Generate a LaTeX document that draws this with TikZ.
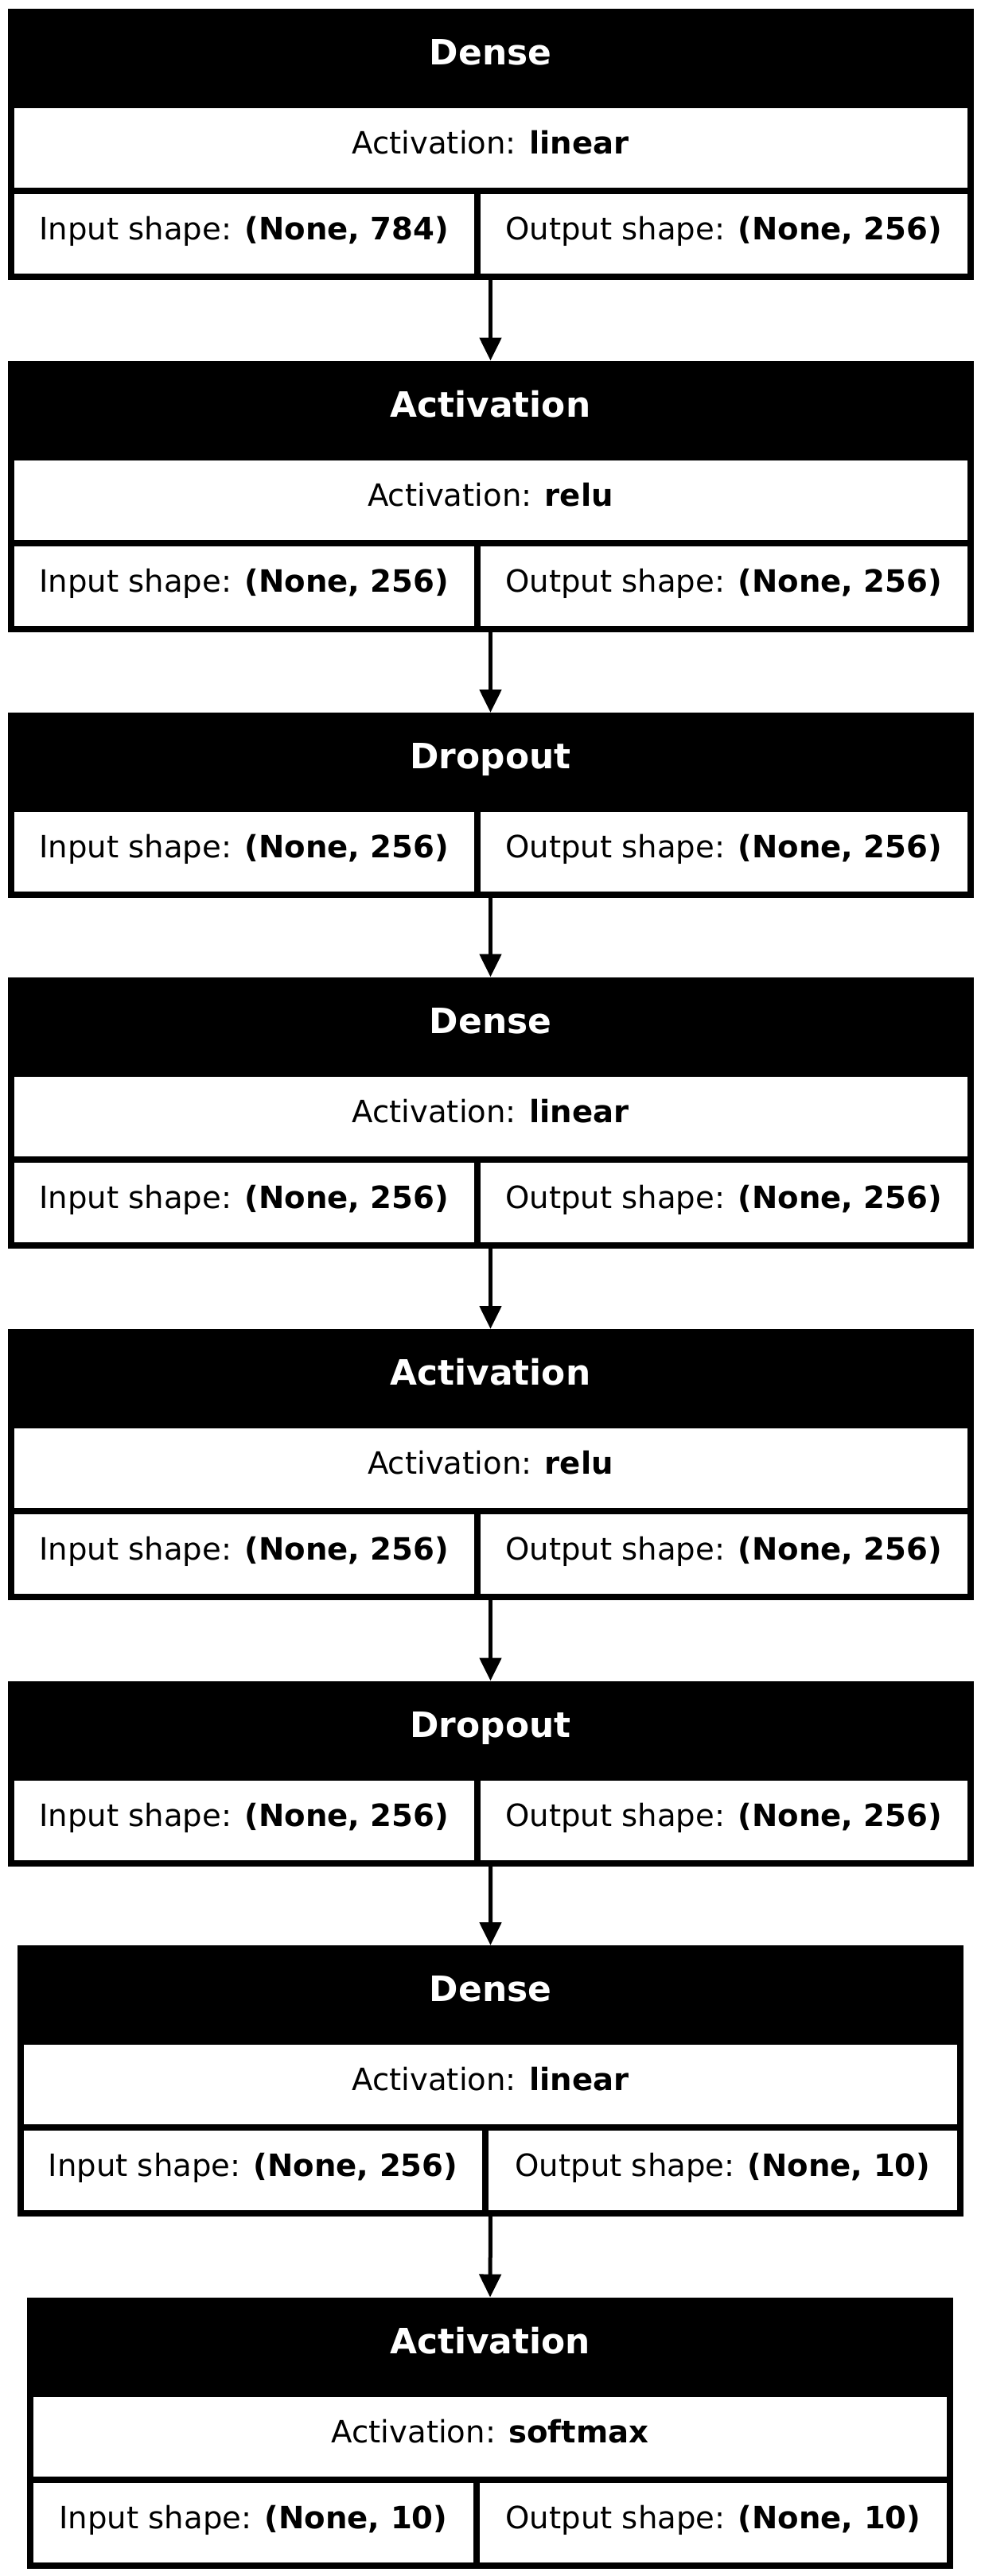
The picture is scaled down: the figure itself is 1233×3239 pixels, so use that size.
\documentclass[tikz,border=0pt]{standalone}
\usepackage{fontspec}
\setmainfont{DejaVu Sans}
\usetikzlibrary{arrows.meta}
\begin{document}
\begin{tikzpicture}[x=0.36pt, y=-0.36pt,
  cell/.style={draw=black, line width=2.88pt, inner sep=0pt, outer sep=0pt, anchor=north west,
    minimum height=38.88pt, text height=10.8pt, text depth=5.4pt,
    font=\fontsize{13.9pt}{16pt}\selectfont},
  hdr/.style={cell, fill=black, text=white, minimum height=42.12pt, text height=11.3pt,
    font=\fontsize{15.8pt}{18pt}\selectfont\bfseries},
  wideA/.style={minimum width=434.16pt},
  inA/.style={minimum width=211.14pt},
  outA/.style={minimum width=223.02pt},
  flow/.style={line width=1.8pt, -{Triangle[width=9.72pt,length=10.44pt]},
    shorten <=1.44pt, shorten >=1.44pt}
]
\fill[white] (0,0) rectangle (1233,3239);
\useasboundingbox (0,0) rectangle (1233,3239);

% Layer 1
\node[hdr, wideA] (h1) at (13.5,15) {Dense};
\node[cell, wideA] (a1) at (13.5,132) {Activation: \textbf{linear}};
\node[cell, inA] (i1) at (13.5,240) {Input shape: \textbf{(None, 784)}};
\node[cell, outA] (o1) at (600,240) {Output shape: \textbf{(None, 256)}};

% Layer 2
\node[hdr, wideA] (h2) at (13.5,457.5) {Activation};
\node[cell, wideA] (a2) at (13.5,574.5) {Activation: \textbf{relu}};
\node[cell, inA] (i2) at (13.5,682.5) {Input shape: \textbf{(None, 256)}};
\node[cell, outA] (o2) at (600,682.5) {Output shape: \textbf{(None, 256)}};

% Layer 3
\node[hdr, wideA] (h3) at (13.5,900) {Dropout};
\node[cell, inA] (i3) at (13.5,1017) {Input shape: \textbf{(None, 256)}};
\node[cell, outA] (o3) at (600,1017) {Output shape: \textbf{(None, 256)}};

% Layer 4
\node[hdr, wideA] (h4) at (13.5,1232.5) {Dense};
\node[cell, wideA] (a4) at (13.5,1349.5) {Activation: \textbf{linear}};
\node[cell, inA] (i4) at (13.5,1457.5) {Input shape: \textbf{(None, 256)}};
\node[cell, outA] (o4) at (600,1457.5) {Output shape: \textbf{(None, 256)}};

% Layer 5
\node[hdr, wideA] (h5) at (13.5,1675) {Activation};
\node[cell, wideA] (a5) at (13.5,1792) {Activation: \textbf{relu}};
\node[cell, inA] (i5) at (13.5,1900) {Input shape: \textbf{(None, 256)}};
\node[cell, outA] (o5) at (600,1900) {Output shape: \textbf{(None, 256)}};

% Layer 6
\node[hdr, wideA] (h6) at (13.5,2117.5) {Dropout};
\node[cell, inA] (i6) at (13.5,2234.5) {Input shape: \textbf{(None, 256)}};
\node[cell, outA] (o6) at (600,2234.5) {Output shape: \textbf{(None, 256)}};

% Layer 7
\node[hdr, minimum width=425.16pt] (h7) at (26,2450) {Dense};
\node[cell, minimum width=425.16pt] (a7) at (26,2567) {Activation: \textbf{linear}};
\node[cell, minimum width=210.24pt] (i7) at (26,2675) {Input shape: \textbf{(None, 256)}};
\node[cell, minimum width=214.92pt] (o7) at (610,2675) {Output shape: \textbf{(None, 10)}};

% Layer 8
\node[hdr, minimum width=416.16pt] (h8) at (38,2892.5) {Activation};
\node[cell, minimum width=416.16pt] (a8) at (38,3009.5) {Activation: \textbf{softmax}};
\node[cell, minimum width=201.96pt] (i8) at (38,3117.5) {Input shape: \textbf{(None, 10)}};
\node[cell, minimum width=214.2pt] (o8) at (599,3117.5) {Output shape: \textbf{(None, 10)}};

% Connectors
\draw[flow] (h1.center |- i1.south) -- (h2.north);
\draw[flow] (h2.center |- i2.south) -- (h3.north);
\draw[flow] (h3.center |- i3.south) -- (h4.north);
\draw[flow] (h4.center |- i4.south) -- (h5.north);
\draw[flow] (h5.center |- i5.south) -- (h6.north);
\draw[flow] (h6.center |- i6.south) -- (h7.north);
\draw[flow] (h7.center |- i7.south) -- (h8.north);
\end{tikzpicture}
\end{document}
